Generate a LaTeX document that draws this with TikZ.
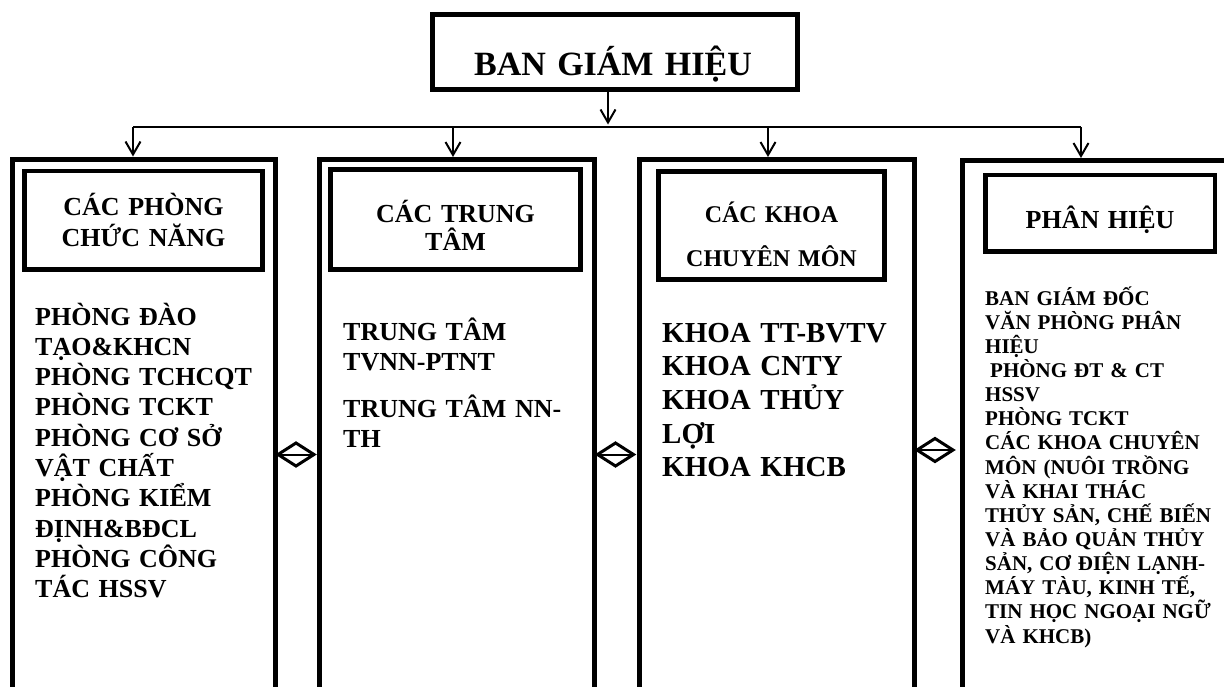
\documentclass[tikz,border=0pt]{standalone}
\usepackage{fontspec}
\setmainfont{Liberation Serif}
\usetikzlibrary{arrows.meta}
\begin{document}
\begin{tikzpicture}[x=1pt,y=-1pt,
  outerbox/.style={draw, line width=5pt, inner sep=0pt, outer sep=0pt, anchor=north west},
  innerbox/.style={draw, line width=4.5pt, inner sep=0pt, outer sep=0pt, anchor=north west},
  conn/.style={line width=2pt},
  arr/.style={line width=2pt, shorten >=2.5pt, -{Straight Barb[length=13pt,width=15pt,line width=2pt]}},
  hdr/.style={anchor=base, align=center, inner sep=0pt, text width=230pt, font=\bfseries},
  body/.style={anchor=base west, align=left, inner sep=0pt, text width=250pt, font=\bfseries},
  diam/.style={line width=3pt, line join=miter},
  midl/.style={line width=2pt},
]
\useasboundingbox (0,0) rectangle (1224,686);
\clip (0,0) rectangle (1224,686);
\fill[white] (0,0) rectangle (1224,686);

% top box
\node[outerbox, minimum width=365pt, minimum height=75pt] (top) at (432,14) {};
\node[hdr, font=\bfseries\fontsize{34}{40}\selectfont, text width=360pt] (title) at (613,75) {BAN GIÁM HIỆU};

% outer boxes
\node[outerbox, minimum width=263pt, minimum height=560pt] (b1) at (12.5,159) {};
\node[outerbox, minimum width=275pt, minimum height=560pt] (b2) at (319.5,159.5) {};
\node[outerbox, minimum width=275pt, minimum height=560pt] (b3) at (639.5,159.5) {};
\node[outerbox, minimum width=300pt, minimum height=560pt] (b4) at (962.5,160.5) {};

% inner header boxes
\node[innerbox, minimum width=238pt, minimum height=98.5pt] (i1) at (24.5,171) {};
\node[innerbox, minimum width=250pt, minimum height=100pt] (i2) at (330.5,169.5) {};
\node[innerbox, minimum width=226pt, minimum height=108pt] (i3) at (658.5,171.5) {};
\node[innerbox, minimum width=229.5pt, minimum height=76.5pt] (i4) at (985.5,175) {};

% headers
\node[hdr, font=\bfseries\fontsize{26}{31}\selectfont] (h1) at (143.5,215) {CÁC PHÒNG\\CHỨC NĂNG};
\node[hdr, font=\bfseries\fontsize{26}{28.5}\selectfont] (h2) at (455.5,222) {CÁC TRUNG\\TÂM};
\node[hdr, font=\bfseries\fontsize{24}{44}\selectfont] (h3) at (771.5,222) {CÁC KHOA\\CHUYÊN MÔN};
\node[hdr, font=\bfseries\fontsize{26}{31}\selectfont] (h4) at (1100,228) {PHÂN HIỆU};

% body texts
\node[body, font=\bfseries\fontsize{26}{30.3}\selectfont] (t1) at (35,325)
  {PHÒNG ĐÀO\\TẠO\&KHCN\\PHÒNG TCHCQT\\PHÒNG TCKT\\PHÒNG CƠ SỞ\\VẬT CHẤT\\PHÒNG KIỂM\\ĐỊNH\&BĐCL\\PHÒNG CÔNG\\TÁC HSSV};
\node[body, font=\bfseries\fontsize{26}{30}\selectfont] (t2) at (343,340)
  {TRUNG TÂM\\TVNN-PTNT\\[17pt]TRUNG TÂM NN-\\TH};
\node[body, font=\bfseries\fontsize{29}{33.7}\selectfont] (t3) at (662,342)
  {KHOA TT-BVTV\\KHOA CNTY\\KHOA THỦY\\LỢI\\KHOA KHCB};
\node[body, text width=235pt, font=\bfseries\fontsize{21}{24.15}\selectfont] (t4) at (985,305)
  {BAN GIÁM ĐỐC\\VĂN PHÒNG PHÂN\\HIỆU\\\hspace*{5pt}PHÒNG ĐT \& CT\\HSSV\\PHÒNG TCKT\\CÁC KHOA CHUYÊN\\MÔN (NUÔI TRỒNG\\VÀ KHAI THÁC\\THỦY SẢN, CHẾ BIẾN\\VÀ BẢO QUẢN THỦY\\SẢN, CƠ ĐIỆN LẠNH-\\MÁY TÀU, KINH TẾ,\\TIN HỌC NGOẠI NGỮ\\VÀ KHCB)};

% connectors
\coordinate (bus) at (608,127);
\coordinate (a1) at (133,127);
\coordinate (a2) at (453,127);
\coordinate (a3) at (768,127);
\coordinate (a4) at (1081,127);
\draw[arr] (top.south -| bus) -- (bus);
\draw[conn] (a1) -- (a4);
\draw[arr] (a1) -- (a1 |- b1.north);
\draw[arr] (a2) -- (a2 |- b2.north);
\draw[arr] (a3) -- (a3 |- b3.north);
\draw[arr] (a4) -- (a4 |- b4.north);

% diamond connectors
\coordinate (d1) at (296,454.5);
\coordinate (d2) at (615.5,454.5);
\coordinate (d3) at (935,450);
\foreach \d in {d1,d2,d3}{
  \draw[diam] (\d) ++(-18,0) -- ++(18,-11.5) -- ++(18,11.5) -- ++(-18,11.5) -- cycle;
  \draw[midl] (\d) ++(-18,0) -- ++(36,0);
}
\end{tikzpicture}
\end{document}
